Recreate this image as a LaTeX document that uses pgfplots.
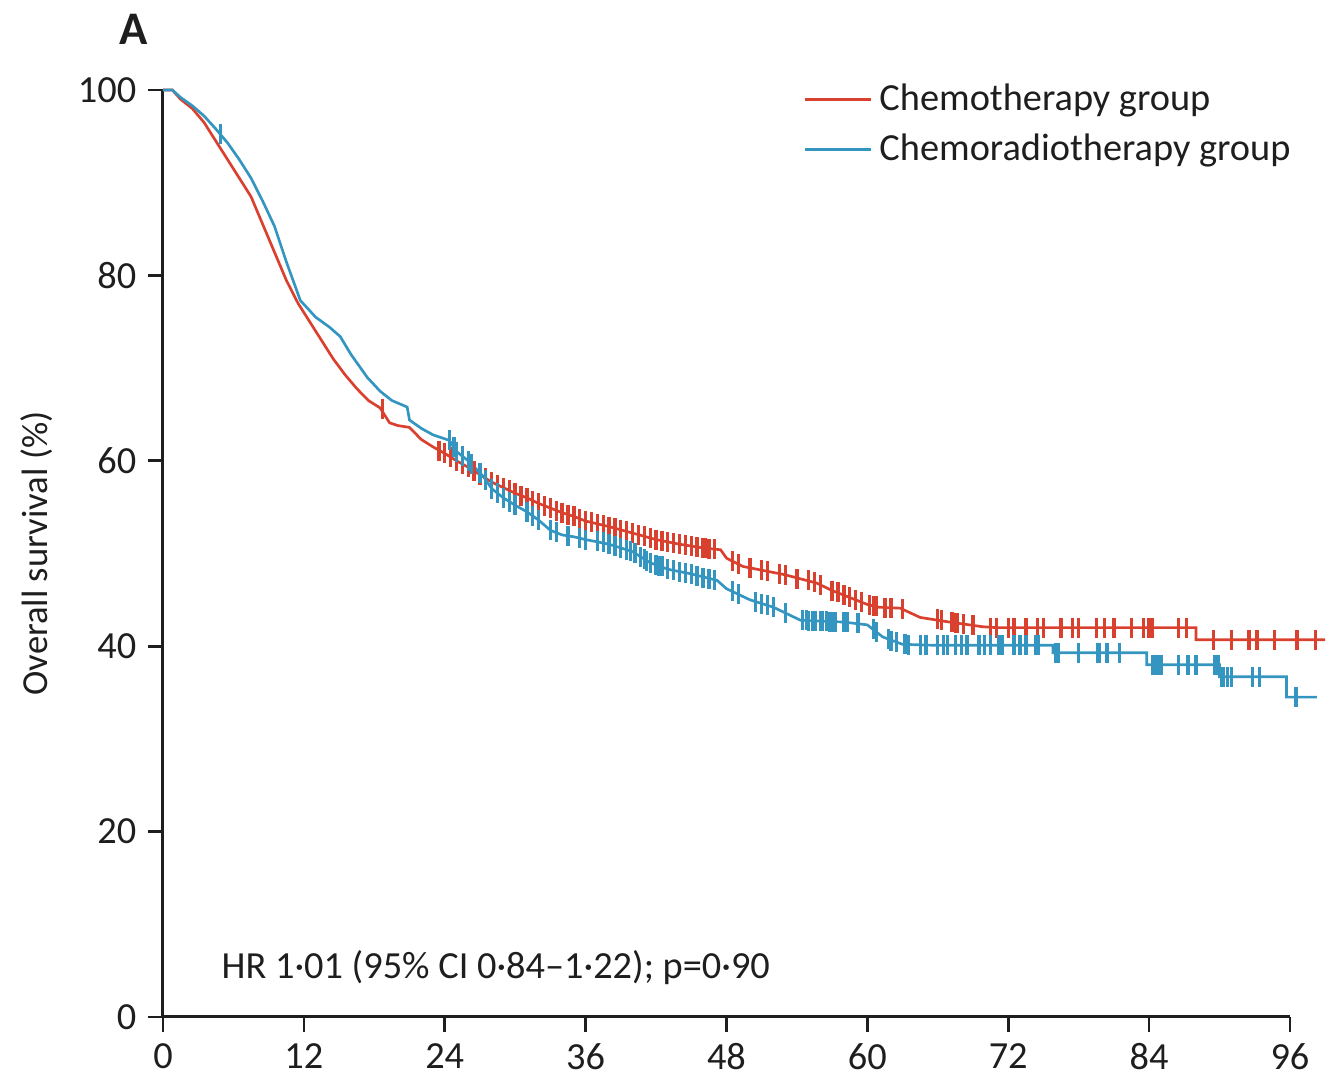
\documentclass[border=0pt]{standalone}
\usepackage{fontspec}
\setmainfont{Carlito}
\usepackage{pgfplots}
\pgfplotsset{compat=1.18}
\definecolor{chemo}{RGB}{218,64,46}
\definecolor{crt}{RGB}{52,150,192}
\definecolor{txt}{RGB}{30,30,30}
\begin{document}
\begin{tikzpicture}
\begin{axis}[
  scale only axis, width=338pt, height=278pt,
  xmin=0, xmax=96, ymin=0, ymax=100,
  axis lines=left, axis line style={-, line width=0.9pt, txt},
  xtick={0,12,...,96}, ytick={0,20,...,100},
  tick align=outside, major tick length=4.5pt,
  tick style={line width=0.8pt, txt},
  clip=false,
  ticklabel style={font=\fontsize{11.5}{13}\selectfont, text=txt},
  /pgf/number format/assume math mode=true,
  ylabel={Overall survival (\%)},
  every axis y label/.style={at={(rel axis cs:-0.112,0.5)}, rotate=90, anchor=center, font=\fontsize{11}{13}\selectfont, text=txt},
  legend style={at={(rel axis cs:0.565,1.018)}, anchor=north west, draw=none, fill=none,
    font=\fontsize{11.5}{13}\selectfont, text=txt, row sep=1.5pt, inner sep=1pt},
  legend cell align=left,
  legend image code/.code={\draw[#1, line width=0.8pt] (0cm,0cm) -- (0.7cm,0cm);},
]
% Chemotherapy group
\addplot[chemo, line width=0.8pt, mark=none] coordinates {
(0,100) (0.8,100) (1.5,99) (2.5,98) (3.5,96.5) (4.5,94.5) (5.5,92.5) (6.5,90.5)
(7.5,88.5) (8.5,85.5) (9.5,82.5) (10.5,79.5) (11.5,77) (12.5,75) (13.5,73)
(14.5,71) (15.5,69.3) (16.5,67.8) (17.5,66.5) (18.5,65.7) (19.3,64.1) (20,63.8)
(21,63.6) (22,62.3) (23,61.5) (24,60.8) (25,60) (26,59.3) (27,58.5) (28,57.7)
(29,57.1) (30,56.5) (31,56) (32,55.4) (33,54.9) (34,54.4) (35,54) (36,53.5)
(38,52.9) (40,52.2) (42,51.5) (44,51) (46,50.6) (47.5,50.4) (48,49.5) (49.4,48.6)
(51,48.2) (53,47.7) (55.7,46.8) (57,46) (59,45) (60,44.5) (61,44.2) (62.8,44.1)
(64.5,43.1) (67,42.6) (69.8,42.1) (71,42) (88,42) (88,40.7) (99,40.7)
};
\addlegendentry{Chemotherapy group}
% Chemoradiotherapy group
\addplot[crt, line width=0.8pt, mark=none] coordinates {
(0,100) (0.8,100) (1.5,99.2) (2.5,98.3) (3.5,97.2) (4.5,95.8) (5.5,94.3) (6.5,92.5)
(7.5,90.5) (8.5,88) (9.5,85.3) (10.5,81.5) (11.7,77.3) (13,75.5) (14.2,74.4)
(15.1,73.4) (16,71.5) (17.4,69) (18.5,67.5) (19.5,66.5) (20.8,65.8) (21,64.4)
(22,63.5) (23,62.8) (24.4,62.2) (25,61) (26,60) (27.3,58.3) (28,57) (29,56)
(30,55.2) (31,54.5) (32,53.6) (33,52.5) (34,52) (35,51.8) (36,51.5) (38,51)
(40,50.2) (41.5,49) (43,48.3) (45,47.8) (47.2,47.1) (48,46.2) (50,45) (52,44.2)
(54.3,42.8) (58,42.6) (60,42.3) (61.3,41) (63,40.2) (65.6,40.1) (75.8,40.1)
(75.8,39.3) (83.8,39.3) (83.8,38) (90,38) (90,36.7) (95.7,36.7) (95.7,34.5) (98.3,34.5)
};
\addlegendentry{Chemoradiotherapy group}
% censor marks, chemotherapy
\addplot[chemo, only marks, mark=|, mark size=3pt, mark options={line width=1pt}, forget plot] coordinates {
(18.7,65.6) (23.5,61.1) (24.5,60.4) (25.5,59.6) (26.5,58.9) (27.5,58.1) (28.5,57.4)
(29.5,56.8) (30.5,56.2) (31.5,55.7) (32.5,55.1) (33.5,54.6) (34.5,54.2) (35.5,53.7)
(36.5,53.4) (37,53.2) (37.5,53.05) (38.5,52.7) (39,52.55) (39.5,52.4) (40.5,52.0)
(41,51.9) (42.5,51.4) (43,51.25) (43.5,51.1) (44.5,50.9) (45,50.8) (45.5,50.7)
(46,50.6) (46.5,50.5) (47,50.45) (50,48.4) (51.5,48.1) (52.5,47.8) (54,47.3)
(55,47.1) (56,46.6) (57.5,45.8) (58,45.5) (58.5,45.3) (59.5,44.75) (60.5,44.35)
(61.5,44.15) (62,44.1) (63,44.0) (66,42.9) (67.2,42.6) (67.7,42.5) (68.2,42.4)
(69,42.3) (70.5,42) (71,42) (72,42) (72.5,42) (73.5,42) (74.5,42) (75,42)
(76.5,42) (77.5,42) (78,42) (79.5,42) (80.2,42) (81,42) (82.5,42) (83.5,42)
(84,42) (84.3,42) (86.5,42) (87.2,42) (89.5,40.7) (91,40.7) (92.5,40.7)
(93.2,40.7) (94.7,40.7) (96.6,40.7) (98.2,40.7)
(24,60.8) (25,60) (26,59.3) (27,58.5) (28,57.7) (29,57.1) (30,56.5) (31,56)
(32,55.4) (33,54.9) (34,54.4) (35,54) (36,53.5) (38,52.9) (40,52.2) (41.5,51.7)
(42,51.5) (44,51) (46.2,50.55) (48.5,49.2) (49,48.9) (51,48.2) (53,47.7)
(55.5,46.9) (57,46) (59,45) (60.2,44.45) (60.8,44.3) (66.3,42.85) (67.5,42.55)
};
% censor marks, chemoradiotherapy
\addplot[crt, only marks, mark=|, mark size=3pt, mark options={line width=1pt}, forget plot] coordinates {
(4.9,95.3) (24.4,62.2) (24.8,61.5) (25.5,60.5) (26.3,59.6) (27,58.7) (28.5,56.5)
(30,55.2) (31.5,54) (33.5,52.3) (34.5,51.9) (35.5,51.7) (37,51.3) (38.5,50.8)
(39,50.6) (39.5,50.4) (40.2,50) (40.7,49.6) (41.2,49.2) (42,48.8) (42.5,48.6)
(43.5,48.2) (44.5,47.9) (45.5,47.6) (46,47.4) (47,47.15) (49,45.6) (50.5,44.8)
(51.5,44.4) (53,43.6) (54.8,42.8) (55.3,42.7) (56,42.7) (56.5,42.7) (57.3,42.6)
(58.3,42.6) (60.5,41.8) (61.8,40.8) (62.5,40.4) (63.5,40.15) (64.5,40.1)
(66.5,40.1) (67.5,40.1) (68.5,40.1) (69.5,40.1) (70.5,40.1) (71.2,40.1)
(72.5,40.1) (73.5,40.1) (74.3,40.1) (76,39.3) (76.3,39.3) (78,39.3) (79.6,39.3)
(80.4,39.3) (81.5,39.3) (84.5,38) (84.8,38) (86.5,38) (87.3,38) (88,38)
(89.8,38) (90.3,36.7) (90.7,36.7) (92.8,36.7) (93.4,36.7) (96.5,34.5)
(25,61) (26,60) (27.5,57.9) (28,57) (29,56) (29.5,55.6) (31,54.5) (32,53.6)
(33,52.5) (36,51.5) (37.5,51.2) (38,51) (39.8,50.3) (41,49.4) (41.5,49)
(42.2,48.7) (43,48.3) (44,48.05) (45,47.8) (46.5,47.3) (48.5,45.9) (51,44.6)
(52,44.2) (54.5,42.8) (55,42.75) (55.6,42.7) (56.2,42.7) (56.8,42.65) (57,42.65)
(58,42.6) (59.2,42.45) (60.8,41.5) (62,40.6) (63.2,40.2) (65,40.1) (66,40.1)
(66.8,40.1) (68,40.1) (70,40.1) (71.5,40.1) (73,40.1) (74.6,40.1) (79.8,39.3)
(84.3,38) (85,38) (89.6,38) (89.9,38) (90.2,36.7) (91,36.7)
};
\node[anchor=west, font=\fontsize{11.5}{13}\selectfont, text=txt] at (axis cs:4.0,5.3) {HR 1·01 (95\% CI 0·84–1·22); p=0·90};
\node[font=\bfseries\fontsize{14}{16}\selectfont, text=txt] at (rel axis cs:-0.026,1.065) {A};
\coordinate (bbsw) at (rel axis cs:-0.1446,-0.0658);
\coordinate (bbne) at (rel axis cs:1.0355,1.0971);
\end{axis}
\pgfresetboundingbox
\useasboundingbox (bbsw) rectangle (bbne);
\end{tikzpicture}
\end{document}
